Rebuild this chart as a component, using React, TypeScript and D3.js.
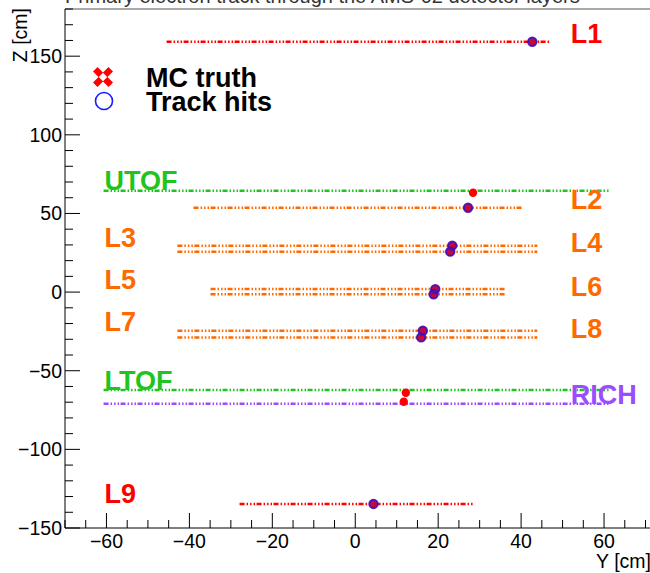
import React from "react";
import * as d3 from "d3";

// ---- data ----
const layerNames = ["L1", "UTOF", "L2", "L3", "L4", "L5", "L6", "L7", "L8", "LTOF", "RICH", "L9"];
const layerGroups = ["outer", "tof", "inner", "inner", "inner", "inner", "inner", "inner", "inner", "tof", "rich", "outer"];
const layerZ = [159.2, 64.4, 53.6, 29.5, 25.7, 1.9, -1.4, -24.6, -28.8, -62.3, -71.0, -134.7];
const layerYMin = [-45.5, -60.7, -39.0, -42.9, -42.9, -34.9, -34.9, -42.9, -42.9, -60.7, -60.7, -27.9];
const layerYMax = [47.0, 61.4, 40.2, 43.9, 43.9, 36.3, 36.3, 43.9, 43.9, 61.4, 61.4, 28.7];

const labelTexts = ["L1", "UTOF", "L2", "L3", "L4", "L5", "L6", "L7", "L8", "LTOF", "RICH", "L9"];
const labelY = [52, -60.5, 52, -60.5, 52, -60.5, 52, -60.5, 52, -60.5, 52, -60.5];
const labelZ = [164.7, 71.2, 59.2, 35.0, 31.8, 8.3, 3.8, -18.4, -22.9, -55.9, -64.8, -127.7];

const hitY = [42.7, 27.2, 23.4, 22.9, 19.3, 18.9, 16.3, 15.9, 4.4];
const hitZ = [159.2, 53.6, 29.5, 25.7, 1.9, -1.4, -24.6, -28.8, -134.7];

const mcY = [42.7, 28.4, 27.2, 23.4, 22.9, 19.3, 18.9, 16.3, 15.9, 12.2, 11.7, 4.4];
const mcZ = [159.2, 63.2, 53.6, 29.5, 25.7, 1.9, -1.4, -24.6, -28.8, -64.0, -69.7, -134.7];

const xMajorTicks = [-60, -40, -20, 0, 20, 40, 60];
const yMajorTicks = [-150, -100, -50, 0, 50, 100, 150];

const legendLabels = ["MC truth", "Track hits"];
const titleText = "Primary electron track through the AMS-02 detector layers";

// ---- styles ----
const groupColor: Record<string, string> = {
  outer: "#ff0000",
  inner: "#ff6a00",
  tof: "#1fc41f",
  rich: "#9a4cff",
};
const FONT = "'Liberation Sans', Arial, Helvetica, sans-serif";

export default function App() {
  const W = 650, H = 573;
  const left = 65, top = 9, bottom = 528;
  const x = d3.scaleLinear().domain([-70, 70]).range([left, 645.5]);
  const y = d3.scaleLinear().domain([-150, 180]).range([bottom, top]);

  const xMinor = d3.range(-70, 75, 5).filter((v) => !xMajorTicks.includes(v));
  const yMinor = d3.range(-150, 181, 10).filter((v) => !yMajorTicks.includes(v));
  const fmt = d3.format("d");
  const dash = "5 2 1.5 2 1.5 2 1.5 1.5";

  const xMark = (cx: number, cy: number, s: number) => {
    const a = s, b = s * 0.45;
    const pts: [number, number][] = [
      [-a + b, -a], [0, -b], [a - b, -a], [a, -a + b], [b, 0], [a, a - b],
      [a - b, a], [0, b], [-a + b, a], [-a, a - b], [-b, 0], [-a, -a + b],
    ];
    return "M" + pts.map((p) => `${cx + p[0]},${cy + p[1]}`).join("L") + "Z";
  };

  return (
    <svg width={W} height={H} style={{ position: "absolute", left: 0, top: 0, background: "#fff" }} fontFamily={FONT}>
      <rect x={0} y={0} width={W} height={H} fill="#fff" />
      {/* title, cropped at top */}
      <text x={65} y={3} fontSize={20} fill="#333">{titleText}</text>

      {/* frame */}
      <line x1={left} x2={700} y1={top} y2={top} stroke="#555" strokeWidth={1} />
      <line x1={left} x2={700} y1={bottom} y2={bottom} stroke="#000" strokeWidth={1} />
      <line x1={left} x2={left} y1={top} y2={bottom} stroke="#000" strokeWidth={1} />

      {/* x ticks */}
      {xMajorTicks.map((v) => (
        <g key={"xm" + v}>
          <line x1={x(v)} x2={x(v)} y1={bottom} y2={bottom - 15} stroke="#000" />
          <text x={x(v)} y={548} fontSize={19.5} textAnchor="middle" fill="#000">{fmt(v)}</text>
        </g>
      ))}
      {xMinor.map((v) => (
        <line key={"xn" + v} x1={x(v)} x2={x(v)} y1={bottom} y2={bottom - 8} stroke="#000" />
      ))}
      {/* y ticks */}
      {yMajorTicks.map((v) => (
        <g key={"ym" + v}>
          <line x1={left} x2={left + 15} y1={y(v)} y2={y(v)} stroke="#000" />
          <text x={62} y={y(v) + 7} fontSize={19.5} textAnchor="end" fill="#000">{fmt(v)}</text>
        </g>
      ))}
      {yMinor.map((v) => (
        <line key={"yn" + v} x1={left} x2={left + 8} y1={y(v)} y2={y(v)} stroke="#000" />
      ))}
      <text x={651} y={568} fontSize={19.5} textAnchor="end" fill="#000">Y [cm]</text>
      <text transform={`translate(27,8) rotate(-90)`} fontSize={19.5} textAnchor="end" fill="#000">Z [cm]</text>

      {/* detector layers */}
      {layerNames.map((n, i) => (
        <line
          key={"l" + n}
          x1={x(layerYMin[i])}
          x2={x(layerYMax[i])}
          y1={y(layerZ[i])}
          y2={y(layerZ[i])}
          stroke={groupColor[layerGroups[i]]}
          strokeWidth={2.5}
          strokeDasharray={dash}
        />
      ))}

      {/* MC truth points */}
      {mcY.map((v, i) => (
        <circle key={"mc" + i} cx={x(v)} cy={y(mcZ[i])} r={4.2} fill="#ff0000" />
      ))}
      {/* track hits */}
      {hitY.map((v, i) => (
        <circle key={"h" + i} cx={x(v)} cy={y(hitZ[i])} r={4.2} fill="#5a1aa0" fillOpacity={0.35} stroke="#3a10c0" strokeWidth={2} strokeOpacity={0.9} />
      ))}

      {/* labels */}
      {labelTexts.map((t, i) => (
        <text
          key={"t" + t}
          x={x(labelY[i])}
          y={y(labelZ[i])}
          dy="0.36em"
          fontSize={27}
          fontWeight="bold"
          fill={groupColor[layerGroups[i]]}
        >
          {t}
        </text>
      ))}

      {/* legend */}
      <path d={xMark(103, 77, 10)} fill="#ff0000" />
      <rect x={100} y={74} width={6} height={6} transform="rotate(45 103 77)" fill="#fff" />
      <text x={146} y={77} dy="0.36em" fontSize={27} fontWeight="bold" fill="#000">{legendLabels[0]}</text>
      <circle cx={104} cy={101} r={8.5} fill="none" stroke="#1a1aff" strokeWidth={1.6} />
      <text x={146} y={101} dy="0.36em" fontSize={27} fontWeight="bold" fill="#000">{legendLabels[1]}</text>
    </svg>
  );
}
